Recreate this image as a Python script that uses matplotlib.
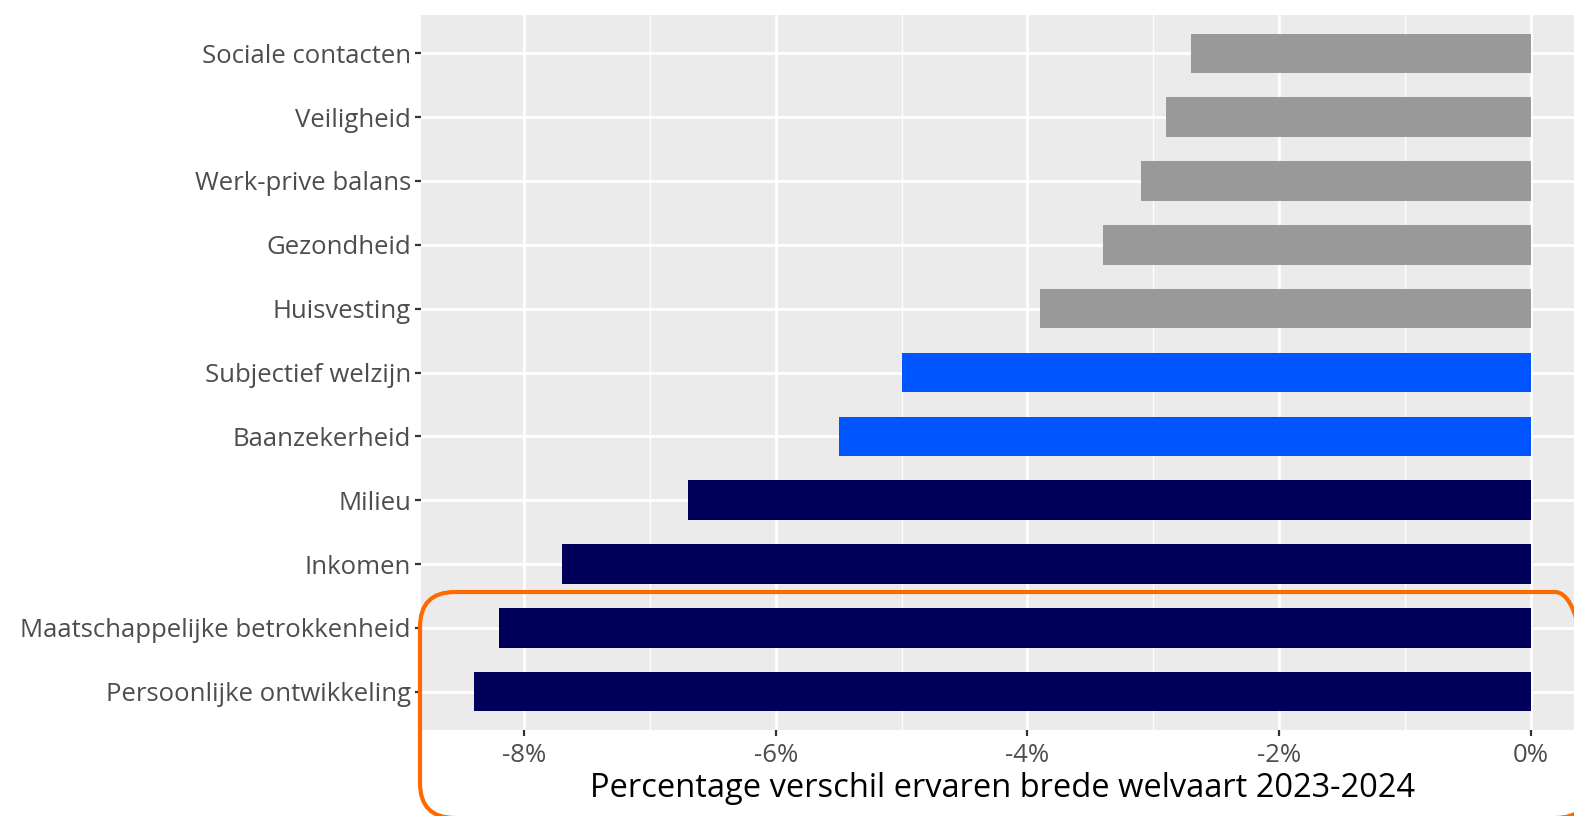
import matplotlib.pyplot as plt
from matplotlib.patches import FancyBboxPatch
from matplotlib.ticker import FixedLocator
from matplotlib.transforms import IdentityTransform

# values (percent change 2023-2024)
categories = [
    "Sociale contacten", "Veiligheid", "Werk-prive balans", "Gezondheid",
    "Huisvesting", "Subjectief welzijn", "Baanzekerheid", "Milieu",
    "Inkomen", "Maatschappelijke betrokkenheid", "Persoonlijke ontwikkeling",
]
values = [-2.7, -2.9, -3.1, -3.4, -3.9, -5.0, -5.5, -6.7, -7.7, -8.2, -8.4]
groups = ["grey"] * 5 + ["blue"] * 2 + ["navy"] * 4
major_ticks = [-8, -6, -4, -2, 0]
minor_ticks = [-9, -7, -5, -3, -1]
tick_labels = ["-8%", "-6%", "-4%", "-2%", "0%"]
xlabel = "Percentage verschil ervaren brede welvaart 2023-2024"

palette = {"grey": "#999999", "blue": "#0055ff", "navy": "#00005a"}

plt.rcParams["font.family"] = ["Open Sans", "DejaVu Sans"]

W, H = 1574, 816
fig = plt.figure(figsize=(W / 100, H / 100), dpi=100)
left, right, top, bottom = 420.7, 1583.9, 15, 730
ax = fig.add_axes([left / W, 1 - bottom / H, (right - left) / W, (bottom - top) / H])

ax.set_facecolor("#ebebeb")
ypos = list(range(len(categories)))
ax.barh(ypos, values, height=0.62, color=[palette[g] for g in groups], zorder=3)

ax.set_xlim(-8.82, 0.42)
ax.set_ylim(len(categories) - 0.4, -0.6)
ax.xaxis.set_major_locator(FixedLocator(major_ticks))
ax.xaxis.set_minor_locator(FixedLocator(minor_ticks))
ax.set_xticklabels(tick_labels)
ax.set_yticks(ypos)
ax.set_yticklabels(categories)

ax.grid(which="major", color="white", linewidth=2.0, zorder=1)
ax.grid(which="minor", axis="x", color="white", linewidth=1.0, zorder=1)
ax.set_axisbelow(True)
for s in ax.spines.values():
    s.set_visible(False)

ax.tick_params(axis="both", which="major", length=4, width=1.6, color="#333333",
               labelcolor="#4d4d4d", labelsize=18.5)
ax.tick_params(axis="y", pad=3)
ax.tick_params(axis="x", pad=5)
ax.tick_params(which="minor", length=0)
ax.set_xlabel(xlabel, fontsize=23.5, color="black", labelpad=3)

# orange highlight box (pixel coordinates, runs off the right and bottom edge)
box = FancyBboxPatch((420, -2), 1170, 226,
                     boxstyle="round,pad=0,rounding_size=35",
                     transform=IdentityTransform(), fill=False,
                     edgecolor="#ff6a00", linewidth=3.0, clip_on=False)
fig.patches.append(box)

fig.savefig("out.png", dpi=100)
